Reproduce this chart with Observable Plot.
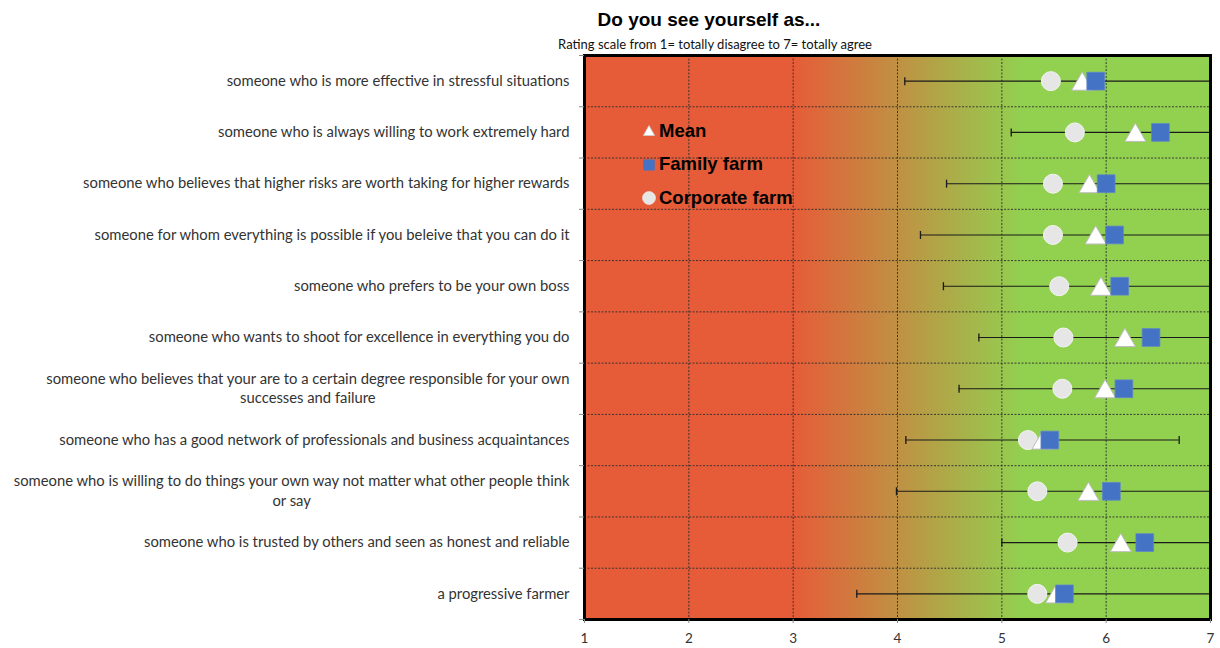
<!DOCTYPE html>
<html>
<head>
<meta charset="utf-8">
<script src="https://cdn.jsdelivr.net/npm/d3@7"></script>
<script src="https://cdn.jsdelivr.net/npm/@observablehq/plot@0.6"></script>
<style>
  html, body { margin: 0; padding: 0; background: #fff; }
  #wrap { position: relative; width: 1220px; height: 648px; overflow: hidden; }
  #title { position: absolute; top: 10px; left: 709px; transform: translateX(-50%); white-space: nowrap;
           font: bold 19px/19px "Liberation Sans", Arial, sans-serif; color: #000; }
  #subtitle { position: absolute; top: 37.5px; left: 715px; transform: translateX(-50%); white-space: nowrap;
           font: 13px/13px Lato, sans-serif; color: #111; }
  #chart { position: absolute; left: 0; top: 0; }
  .leg { position: absolute; white-space: nowrap; font: bold 18.5px/18.5px "Liberation Sans", Arial, sans-serif; color: #000; }
  .legsym { position: absolute; width: 16px; height: 16px; }
</style>
</head>
<body>
<div id="wrap">
  <div id="chart"></div>
  <div id="title"></div>
  <div id="subtitle"></div>
  <div id="legend"></div>
</div>
<script>
// ---------- data ----------
const titleText = "Do you see yourself as...";
const subtitleText = "Rating scale from 1= totally disagree to 7= totally agree";

const categories = [
  "someone who is more effective in stressful situations",
  "someone who is always willing to work extremely hard",
  "someone who believes that higher risks are worth taking for higher rewards",
  "someone for whom everything is possible if you beleive that you can do it",
  "someone who prefers to be your own boss",
  "someone who wants to shoot for excellence in everything you do",
  "someone who believes that your are to a certain degree responsible for your own\nsuccesses and failure",
  "someone who has a good network of professionals and business acquaintances",
  "someone who is willing to do things your own way not matter what other people think\nor say",
  "someone who is trusted by others and seen as honest and reliable",
  "a progressive farmer"
];
const meanValues      = [5.77, 6.28, 5.84, 5.90, 5.95, 6.18, 5.99, 5.39, 5.83, 6.14, 5.52];
const familyValues    = [5.90, 6.52, 6.00, 6.08, 6.13, 6.43, 6.17, 5.46, 6.05, 6.37, 5.60];
const corporateValues = [5.47, 5.70, 5.49, 5.49, 5.55, 5.59, 5.58, 5.25, 5.34, 5.63, 5.34];
const sdValues        = [1.70, 1.19, 1.37, 1.68, 1.51, 1.40, 1.40, 1.31, 1.84, 1.14, 1.91];

const xTicks = [1, 2, 3, 4, 5, 6, 7];
const gradientFrom = 3.0;   // scale value where red starts fading
const gradientTo = 5.2;     // scale value where green is reached

const legendLabels = ["Mean", "Family farm", "Corporate farm"];

// ---------- build ----------
const xMin = xTicks[0], xMax = xTicks[xTicks.length - 1];
const rows = categories.map((c, i) => ({
  category: c,
  row: i + 0.5,
  mean: meanValues[i],
  family: familyValues[i],
  corporate: corporateValues[i],
  lo: meanValues[i] - sdValues[i],
  hi: meanValues[i] + sdValues[i]
}));

const capSymbol = {
  draw(ctx, size) {
    const h = Math.sqrt(size / Math.PI);
    ctx.moveTo(0, -h);
    ctx.lineTo(0, h);
  }
};

const gridStyle = { stroke: "#2f2f2f", strokeOpacity: 0.9, strokeWidth: 1, strokeDasharray: "2,1.5" };

const chart = Plot.plot({
  width: 1220,
  height: 648,
  marginTop: 55,
  marginBottom: 29,
  marginLeft: 584,
  marginRight: 10,
  style: { fontFamily: "Lato, sans-serif", fontSize: "14px", color: "#333", background: "transparent" },
  x: { domain: [xMin, xMax], label: null },
  y: { domain: [0, categories.length], reverse: true, label: null },
  marks: [
    Plot.frame({ fill: "url(#bgGrad)" }),
    Plot.ruleX(xTicks.slice(1, -1), gridStyle),
    Plot.ruleY(d3.range(1, categories.length), gridStyle),
    // error bars (+/- SD around mean)
    Plot.ruleY(rows, { y: "row", x1: d => Math.max(xMin, d.lo), x2: d => Math.min(xMax, d.hi), stroke: "#1a1a1a", strokeWidth: 1.1 }),
    Plot.dot(rows.filter(d => d.lo >= xMin), { x: "lo", y: "row", symbol: capSymbol, r: 4, fill: "none", stroke: "#1a1a1a", strokeWidth: 1.3 }),
    Plot.dot(rows.filter(d => d.hi <= xMax), { x: "hi", y: "row", symbol: capSymbol, r: 4, fill: "none", stroke: "#1a1a1a", strokeWidth: 1.3 }),
    // markers
    Plot.dot(rows, { x: "corporate", y: "row", symbol: "circle", r: 9.5, fill: "#E7E6E6", stroke: "#F4F4F4", strokeWidth: 1 }),
    Plot.dot(rows, { x: "mean", y: "row", symbol: "triangle", r: 7.8, dy: 3, fill: "#FFFFFF", stroke: "#BDBDBD", strokeWidth: 1 }),
    Plot.dot(rows, { x: "family", y: "row", symbol: "square", r: 10, fill: "#4472C4", stroke: "#5E86CC", strokeWidth: 0.8 }),
    // frame
    Plot.frame({ stroke: "#000", strokeWidth: 3 }),
    // axes
    Plot.axisY({ ticks: d3.range(0, categories.length + 1), tickSize: 5, tickFormat: () => "", stroke: "#8a8a8a", label: null }),
    Plot.axisY({ ticks: rows.map(d => d.row), tickSize: 0, tickPadding: 15, lineHeight: 1.3, fontSize: 14.8, dy: -1.5,
                 tickFormat: v => categories[Math.floor(v)], label: null, fill: "#333" }),
    Plot.axisX({ ticks: xTicks, tickSize: 4, tickPadding: 10, fontSize: 13.5, tickFormat: d3.format("d"), stroke: "#8a8a8a", label: null, fill: "#333" })
  ]
});

// gradient background definition
const ns = "http://www.w3.org/2000/svg";
const defs = document.createElementNS(ns, "defs");
const grad = document.createElementNS(ns, "linearGradient");
grad.setAttribute("id", "bgGrad");
grad.setAttribute("x1", "0"); grad.setAttribute("x2", "1");
grad.setAttribute("y1", "0"); grad.setAttribute("y2", "0");
[[gradientFrom, "#E65C38"], [gradientTo, "#92D050"]].forEach(([v, col]) => {
  const s = document.createElementNS(ns, "stop");
  s.setAttribute("offset", (v - xMin) / (xMax - xMin));
  s.setAttribute("stop-color", col);
  grad.appendChild(s);
});
defs.appendChild(grad);
chart.insertBefore(defs, chart.firstChild);

document.getElementById("chart").appendChild(chart);

// center multi-line category labels (Excel-like)
chart.querySelectorAll("text").forEach(t => {
  const ts = t.querySelectorAll("tspan");
  if (ts.length > 1) {
    let w = 0;
    ts.forEach(s => { w = Math.max(w, s.getComputedTextLength()); });
    t.setAttribute("text-anchor", "middle");
    ts.forEach(s => s.setAttribute("x", -w / 2));
  }
});

// title / subtitle
document.getElementById("title").textContent = titleText;
document.getElementById("subtitle").textContent = subtitleText;

// legend
const legend = document.getElementById("legend");
const legendSymbols = [
  '<svg class="legsym" viewBox="-8 -8 16 16"><path d="M0,-5.5L5.6,4.5L-5.6,4.5Z" fill="#fff" stroke="#ccc" stroke-width="0.8"/></svg>',
  '<svg class="legsym" viewBox="-8 -8 16 16"><rect x="-5.7" y="-5.5" width="11.4" height="11" fill="#4472C4"/></svg>',
  '<svg class="legsym" viewBox="-8 -8 16 16"><circle r="6.5" fill="#E7E6E6" stroke="#f4f4f4" stroke-width="0.6"/></svg>'
];
const legendTop = 121.5, legendStep = 33.6;
legendLabels.forEach((lab, i) => {
  const yTop = legendTop + i * legendStep;
  const sym = document.createElement("div");
  sym.innerHTML = legendSymbols[i];
  const svgEl = sym.firstChild;
  svgEl.style.left = "641px";
  svgEl.style.top = (yTop + 1.5) + "px";
  legend.appendChild(svgEl);
  const tx = document.createElement("div");
  tx.className = "leg";
  tx.style.left = "659px";
  tx.style.top = yTop + "px";
  tx.textContent = lab;
  legend.appendChild(tx);
});
</script>
</body>
</html>
